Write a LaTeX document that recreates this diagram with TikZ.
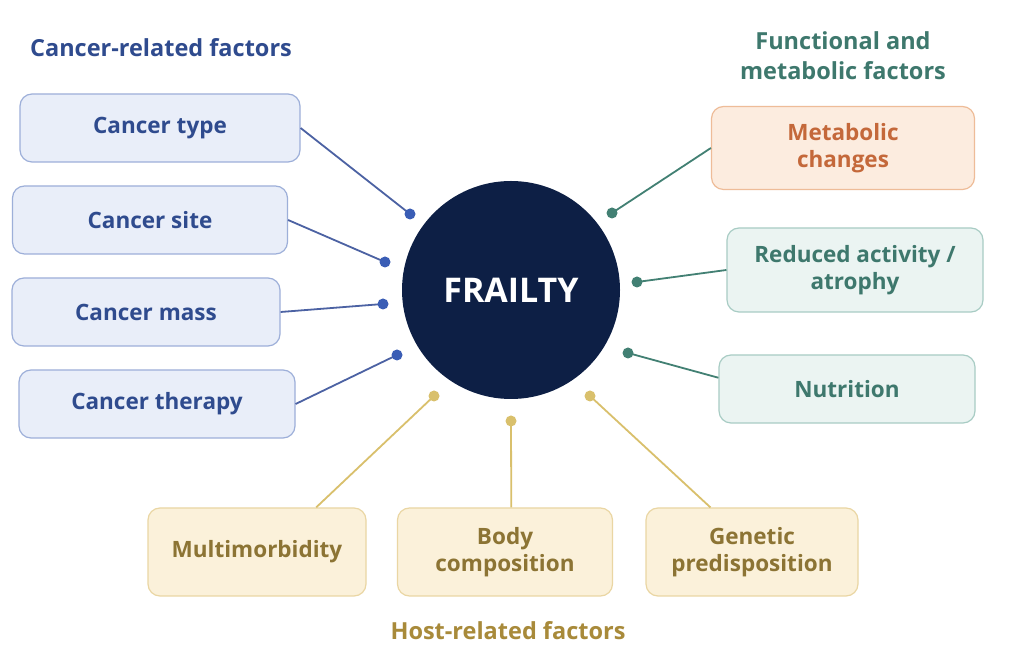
\documentclass[tikz,border=0pt]{standalone}
\usepackage{fontspec}
\setmainfont{Open Sans}
\usepackage{tikz}

\definecolor{canText}{HTML}{2F4B8E}
\definecolor{canFill}{HTML}{E9EEF9}
\definecolor{canLine}{HTML}{9DAFD9}
\definecolor{canLink}{HTML}{4C62A3}
\definecolor{canDot}{HTML}{3A5DB5}
\definecolor{funText}{HTML}{3E786D}
\definecolor{funFill}{HTML}{EBF4F2}
\definecolor{funLine}{HTML}{A8CCC4}
\definecolor{funLink}{HTML}{428073}
\definecolor{metText}{HTML}{C4683A}
\definecolor{metFill}{HTML}{FCECDF}
\definecolor{metLine}{HTML}{EEBC98}
\definecolor{hostText}{HTML}{8C7434}
\definecolor{hostHead}{HTML}{A88A3A}
\definecolor{hostFill}{HTML}{FBF1DA}
\definecolor{hostLine}{HTML}{EAD6A3}
\definecolor{hostLink}{HTML}{D9C06C}
\definecolor{frailBg}{HTML}{0D1F45}

\tikzset{
	factor/.style={rectangle,rounded corners=12pt,line width=1.2pt,align=center,
		font=\fontsize{22.5}{27}\selectfont\bfseries,inner sep=0pt},
	canbox/.style={factor,draw=canLine,fill=canFill,text=canText,minimum height=68pt},
	funbox/.style={factor,draw=funLine,fill=funFill,text=funText,minimum width=256pt},
	metbox/.style={factor,draw=metLine,fill=metFill,text=metText,minimum width=263pt,minimum height=83pt},
	hostbox/.style={factor,draw=hostLine,fill=hostFill,text=hostText,minimum height=88pt},
	heading/.style={align=center,font=\fontsize{23.5}{30}\selectfont\bfseries},
	link/.style={line width=1.8pt},
}

\begin{document}
\begin{tikzpicture}[x=1pt,y=1pt]
		\useasboundingbox[fill=white] (0,0) rectangle (1022,666);
%		\draw[help lines,step=50] (0,0) grid (1022,666);
		\path (511,376) coordinate (centre);

		\path (160,538) coordinate (ctype_c);
		\path (150,446) coordinate (csite_c);
		\path (146,354) coordinate (cmass_c);
		\path (157,262) coordinate (cther_c);
		\path (410,452) coordinate (ctype_dot);
		\path (385,404) coordinate (csite_dot);
		\path (383,362) coordinate (cmass_dot);
		\path (397,311) coordinate (cther_dot);

		\path (843,518) coordinate (metab_c);
		\path (855,396) coordinate (redact_c);
		\path (847,277) coordinate (nutri_c);
		\path (612,453) coordinate (metab_dot);
		\path (637,384) coordinate (redact_dot);
		\path (628,313) coordinate (nutri_dot);

		\path (257,114) coordinate (multi_c);
		\path (505,114) coordinate (body_c);
		\path (752,114) coordinate (genet_c);
		\path (434,270) coordinate (multi_dot);
		\path (511,245) coordinate (body_dot);
		\path (590,270) coordinate (genet_dot);

		\draw (centre) node[circle,fill=frailBg,minimum size=218pt,text=white,
			font=\fontsize{34}{40}\selectfont\bfseries] (frailty) {FRAILTY};

		\draw (161,618) node[heading,text=canText] (canhead) {Cancer-related factors};
		\draw (843,610) node[heading,text=funText] (funhead) {Functional and\\metabolic factors};
		\draw (508,35) node[heading,text=hostHead] (hosthead) {Host-related factors};

		\draw (ctype_c) node[canbox,minimum width=280pt] (ctype) {Cancer type};
		\draw (csite_c) node[canbox,minimum width=275pt] (csite) {Cancer site};
		\draw (cmass_c) node[canbox,minimum width=268pt] (cmass) {Cancer mass};
		\draw (cther_c) node[canbox,minimum width=276pt] (cther) {Cancer therapy};
		\draw[link,canLink] (ctype.east) -- (ctype_dot);
		\draw[link,canLink] (csite.east) -- (csite_dot);
		\draw[link,canLink] (cmass.east) -- (cmass_dot);
		\draw[link,canLink] (cther.east) -- (cther_dot);
		\foreach \d in {ctype_dot,csite_dot,cmass_dot,cther_dot}
			\fill[canDot] (\d) circle (5.5);

		\draw (metab_c) node[metbox] (metab) {Metabolic\\changes};
		\draw (redact_c) node[funbox,minimum height=84pt] (redact) {Reduced activity /\\atrophy};
		\draw (nutri_c) node[funbox,minimum height=68pt] (nutri) {Nutrition};
		\draw[link,funLink] (metab.west) -- (metab_dot);
		\draw[link,funLink] (redact.west) -- (redact_dot);
		\draw[link,funLink] (nutri.175) -- (nutri_dot);
		\foreach \d in {metab_dot,redact_dot,nutri_dot}
			\fill[funLink] (\d) circle (5.5);

		\draw (multi_c) node[hostbox,minimum width=218pt] (multi) {Multimorbidity};
		\draw (body_c) node[hostbox,minimum width=215pt] (body) {Body\\composition};
		\draw (genet_c) node[hostbox,minimum width=212pt] (genet) {Genetic\\predisposition};
		\draw[link,hostLink] (multi.37) -- (multi_dot);
		\draw[link,hostLink] (body.82) -- (body_dot);
		\draw[link,hostLink] (genet.133) -- (genet_dot);
		\foreach \d in {multi_dot,body_dot,genet_dot}
			\fill[hostLink] (\d) circle (5.5);

	\end{tikzpicture}
\end{document}
